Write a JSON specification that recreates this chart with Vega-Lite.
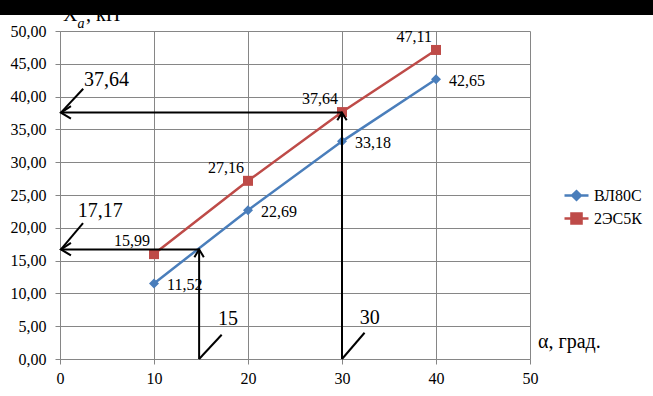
{
  "$schema": "https://vega.github.io/schema/vega-lite/v6.json",
  "width": 470,
  "height": 328,
  "autosize": {"type": "none"},
  "padding": {"left": 60, "top": 31, "right": 123, "bottom": 37},
  "config": {
    "font": "Liberation Serif",
    "view": {"stroke": null},
    "locale": {"number": {"decimal": ",", "thousands": " ", "grouping": [3], "currency": ["", ""]}},
    "axis": {
      "domainColor": "#868686",
      "gridColor": "#868686",
      "tickColor": "#868686",
      "gridOpacity": 1,
      "domainWidth": 1,
      "gridWidth": 1,
      "tickWidth": 1,
      "tickSize": 5,
      "labelFont": "Liberation Serif",
      "labelFontSize": 16,
      "labelColor": "#000000",
      "labelFlush": false,
      "title": null
    }
  },
  "datasets": {
    "series": [
      {"series": "ВЛ80С", "x": 10, "y": 11.52},
      {"series": "ВЛ80С", "x": 20, "y": 22.69},
      {"series": "ВЛ80С", "x": 30, "y": 33.18},
      {"series": "ВЛ80С", "x": 40, "y": 42.65},
      {"series": "2ЭС5К", "x": 10, "y": 15.99},
      {"series": "2ЭС5К", "x": 20, "y": 27.16},
      {"series": "2ЭС5К", "x": 30, "y": 37.64},
      {"series": "2ЭС5К", "x": 40, "y": 47.11}
    ],
    "segs": [
      {"x": 0.1, "x2": 14.8, "y": 16.7, "y2": 16.7},
      {"x": 14.8, "x2": 14.8, "y": 0, "y2": 16.7},
      {"x": 0.1, "x2": 30, "y": 37.56, "y2": 37.56},
      {"x": 30, "x2": 30, "y": 0, "y2": 37.56},
      {"x": 2.47, "x2": 0.1, "y": 41.2, "y2": 37.56},
      {"x": 2.45, "x2": 0.1, "y": 20.7, "y2": 16.7},
      {"x": 17.2, "x2": 14.8, "y": 3.7, "y2": 0},
      {"x": 32.4, "x2": 30, "y": 4.0, "y2": 0}
    ],
    "heads": [
      {"x": 0.1, "y": 37.56, "dir": "left"},
      {"x": 0.1, "y": 16.7, "dir": "left"},
      {"x": 14.8, "y": 16.7, "dir": "up"},
      {"x": 30, "y": 37.56, "dir": "up"}
    ],
    "notes": [
      {"label": "37,64", "x": 2.55, "y": 41.6},
      {"label": "17,17", "x": 1.9, "y": 21.6},
      {"label": "15", "x": 16.8, "y": 5.2},
      {"label": "30", "x": 31.9, "y": 5.3},
      {"label": "α, град.", "x": 50.85, "y": 1.7},
      {"label": "X", "x": 0.32, "y": 51.5},
      {"label": ", кН", "x": 2.77, "y": 51.5}
    ],
    "sub": [
      {"label": "a", "x": 1.85, "y": 50.5}
    ],
    "band": [
      {"x": -10, "x2": 70, "y": 52.44, "y2": 60}
    ]
  },
  "encoding": {
    "x": {
      "field": "x",
      "type": "quantitative",
      "scale": {"domain": [0, 50], "nice": false, "zero": false},
      "axis": {"values": [0, 10, 20, 30, 40, 50], "labelPadding": 6, "labelFlush": false, "title": null}
    },
    "y": {
      "field": "y",
      "type": "quantitative",
      "scale": {"domain": [0, 50], "nice": false, "zero": false},
      "axis": {"values": [0, 5, 10, 15, 20, 25, 30, 35, 40, 45, 50], "format": ".2f", "labelPadding": 9, "labelFlush": false, "title": null}
    }
  },
  "layer": [
    {
      "data": {"name": "series"},
      "mark": {"type": "line", "strokeWidth": 2.5, "clip": false},
      "encoding": {
        "color": {
          "field": "series",
          "type": "nominal",
          "scale": {"domain": ["ВЛ80С", "2ЭС5К"], "range": ["#4a7ebb", "#be4b48"]}
        }
      }
    },
    {
      "data": {"name": "series"},
      "mark": {"type": "point", "filled": true, "opacity": 1, "size": 100, "clip": false},
      "encoding": {
        "color": {
          "field": "series",
          "type": "nominal",
          "scale": {"domain": ["ВЛ80С", "2ЭС5К"], "range": ["#4a7ebb", "#be4b48"]},
          "legend": {
            "orient": "none",
            "legendX": 503,
            "legendY": 151,
            "title": null,
            "labelFont": "Liberation Serif",
            "labelFontSize": 16,
            "labelColor": "#000000",
            "symbolSize": 576,
            "symbolStrokeWidth": 2.5,
            "symbolOpacity": 1,
            "rowPadding": 0,
            "labelOffset": 4,
            "padding": 0,
            "encode": {
              "symbols": {
                "update": {
                  "shape": {"signal": "datum.value === 'ВЛ80С' ? 'M-1,0H1M-0.36,0L0,-0.36L0.36,0L0,0.36Z' : 'M-1,0H1M-0.42,-0.42H0.42V0.42H-0.42Z'"},
                  "stroke": {"signal": "datum.value === 'ВЛ80С' ? '#4a7ebb' : '#be4b48'"},
                  "fill": {"signal": "datum.value === 'ВЛ80С' ? '#4a7ebb' : '#be4b48'"},
                  "strokeWidth": {"value": 2.5}
                }
              }
            }
          }
        },
        "shape": {
          "field": "series",
          "type": "nominal",
          "scale": {"domain": ["ВЛ80С", "2ЭС5К"], "range": ["diamond", "square"]},
          "legend": null
        }
      }
    },
    {
      "data": {"name": "series"},
      "transform": [{"filter": "datum.series === 'ВЛ80С'"}],
      "mark": {"type": "text", "align": "left", "baseline": "alphabetic", "dx": 13, "dy": 7, "fontSize": 16, "font": "Liberation Serif", "color": "#000000", "clip": false},
      "encoding": {"text": {"field": "y", "type": "quantitative", "format": ".2f"}}
    },
    {
      "data": {"name": "series"},
      "transform": [{"filter": "datum.series === '2ЭС5К'"}],
      "mark": {"type": "text", "align": "right", "baseline": "alphabetic", "dx": -4, "dy": -8, "fontSize": 16, "font": "Liberation Serif", "color": "#000000", "clip": false},
      "encoding": {"text": {"field": "y", "type": "quantitative", "format": ".2f"}}
    },
    {
      "data": {"name": "segs"},
      "mark": {"type": "rule", "color": "#000000", "strokeWidth": 2, "clip": false},
      "encoding": {
        "x2": {"field": "x2"},
        "y2": {"field": "y2"}
      }
    },
    {
      "data": {"name": "heads"},
      "mark": {"type": "point", "filled": false, "stroke": "#000000", "strokeWidth": 2, "opacity": 1, "size": 400, "clip": false},
      "encoding": {
        "shape": {
          "field": "dir",
          "type": "nominal",
          "scale": {"domain": ["left", "up"], "range": ["M1,-0.65L0,0L1,0.6", "M-0.47,0.77L0,0L0.47,0.77"]},
          "legend": null
        }
      }
    },
    {
      "data": {"name": "notes"},
      "mark": {"type": "text", "align": "left", "baseline": "alphabetic", "fontSize": 20, "font": "Liberation Serif", "color": "#000000", "clip": false},
      "encoding": {"text": {"field": "label", "type": "nominal"}}
    },
    {
      "data": {"name": "sub"},
      "mark": {"type": "text", "align": "left", "baseline": "alphabetic", "fontSize": 14, "fontStyle": "italic", "font": "Liberation Serif", "color": "#000000", "clip": false},
      "encoding": {"text": {"field": "label", "type": "nominal"}}
    },
    {
      "data": {"name": "band"},
      "mark": {"type": "rect", "color": "#000000", "opacity": 1, "clip": false},
      "encoding": {
        "x2": {"field": "x2"},
        "y2": {"field": "y2"}
      }
    }
  ],
  "resolve": {"scale": {"shape": "independent"}, "legend": {"shape": "independent"}}
}
